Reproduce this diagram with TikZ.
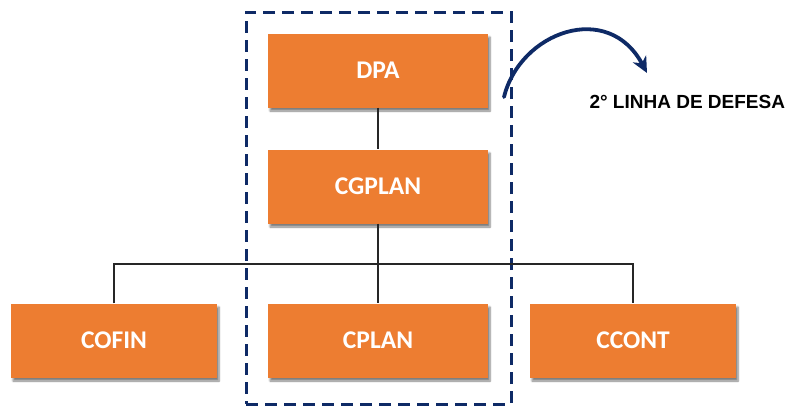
\documentclass[tikz,border=0pt]{standalone}
\usepackage{fontspec}
\setmainfont{Carlito}
\newfontfamily\labelfont{Liberation Sans}
\usetikzlibrary{shadows.blur,arrows.meta,calc}
\definecolor{unitorange}{HTML}{ED7D31}
\definecolor{navy}{HTML}{0E2A66}
\definecolor{wire}{HTML}{262626}
\tikzset{
  unit/.style={fill=unitorange, draw=none, minimum height=74pt, inner sep=0pt,
    text=white, font=\fontsize{25.5}{28}\selectfont\bfseries,
    blur shadow={shadow xshift=2pt, shadow yshift=-3.5pt, shadow blur steps=6, shadow opacity=50}},
  wide/.style={unit, minimum width=220pt},
  side/.style={unit, minimum width=206pt},
  link/.style={draw=wire, line width=1.4pt},
  frame/.style={draw=navy, line width=3pt, dash pattern=on 12pt off 7pt, minimum width=265pt, minimum height=392pt, inner sep=0pt},
  sweep/.style={draw=navy, line width=3.8pt, line cap=round, -{Stealth[length=16pt,width=15pt,inset=5pt]}}
}
\begin{document}
\begin{tikzpicture}[x=1pt,y=-1pt]
  \useasboundingbox (0,0) rectangle (791,410);
  % second line of defence grouping
  \node[frame] (group) at (378.5,208) {};
  % organisational units
  \node[wide] (dpa) at (378,70.5) {DPA};
  \node[wide] (cgplan) at (378,186.5) {CGPLAN};
  \node[side] (cofin) at (114,340.5) {COFIN};
  \node[wide] (cplan) at (378,340.5) {CPLAN};
  \node[side] (ccont) at (633,340.5) {CCONT};
  \coordinate (hub) at (378,264);
  % reporting lines
  \draw[link] (dpa) -- (cgplan);
  \draw[link] (cgplan) -- (cplan);
  \draw[link] (cofin.north) -- (cofin.north |- hub) -- (ccont.north |- hub) -- (ccont.north);
  % annotation
  \coordinate (from) at (504,97);
  \coordinate (to) at (647,73);
  \draw[sweep] (from) .. controls (520,32) and (608,0) .. (to);
  \node[font=\labelfont\fontsize{19}{22}\selectfont\bfseries, anchor=west] (note) at (586,102) {2° LINHA DE DEFESA};
\end{tikzpicture}
\end{document}
